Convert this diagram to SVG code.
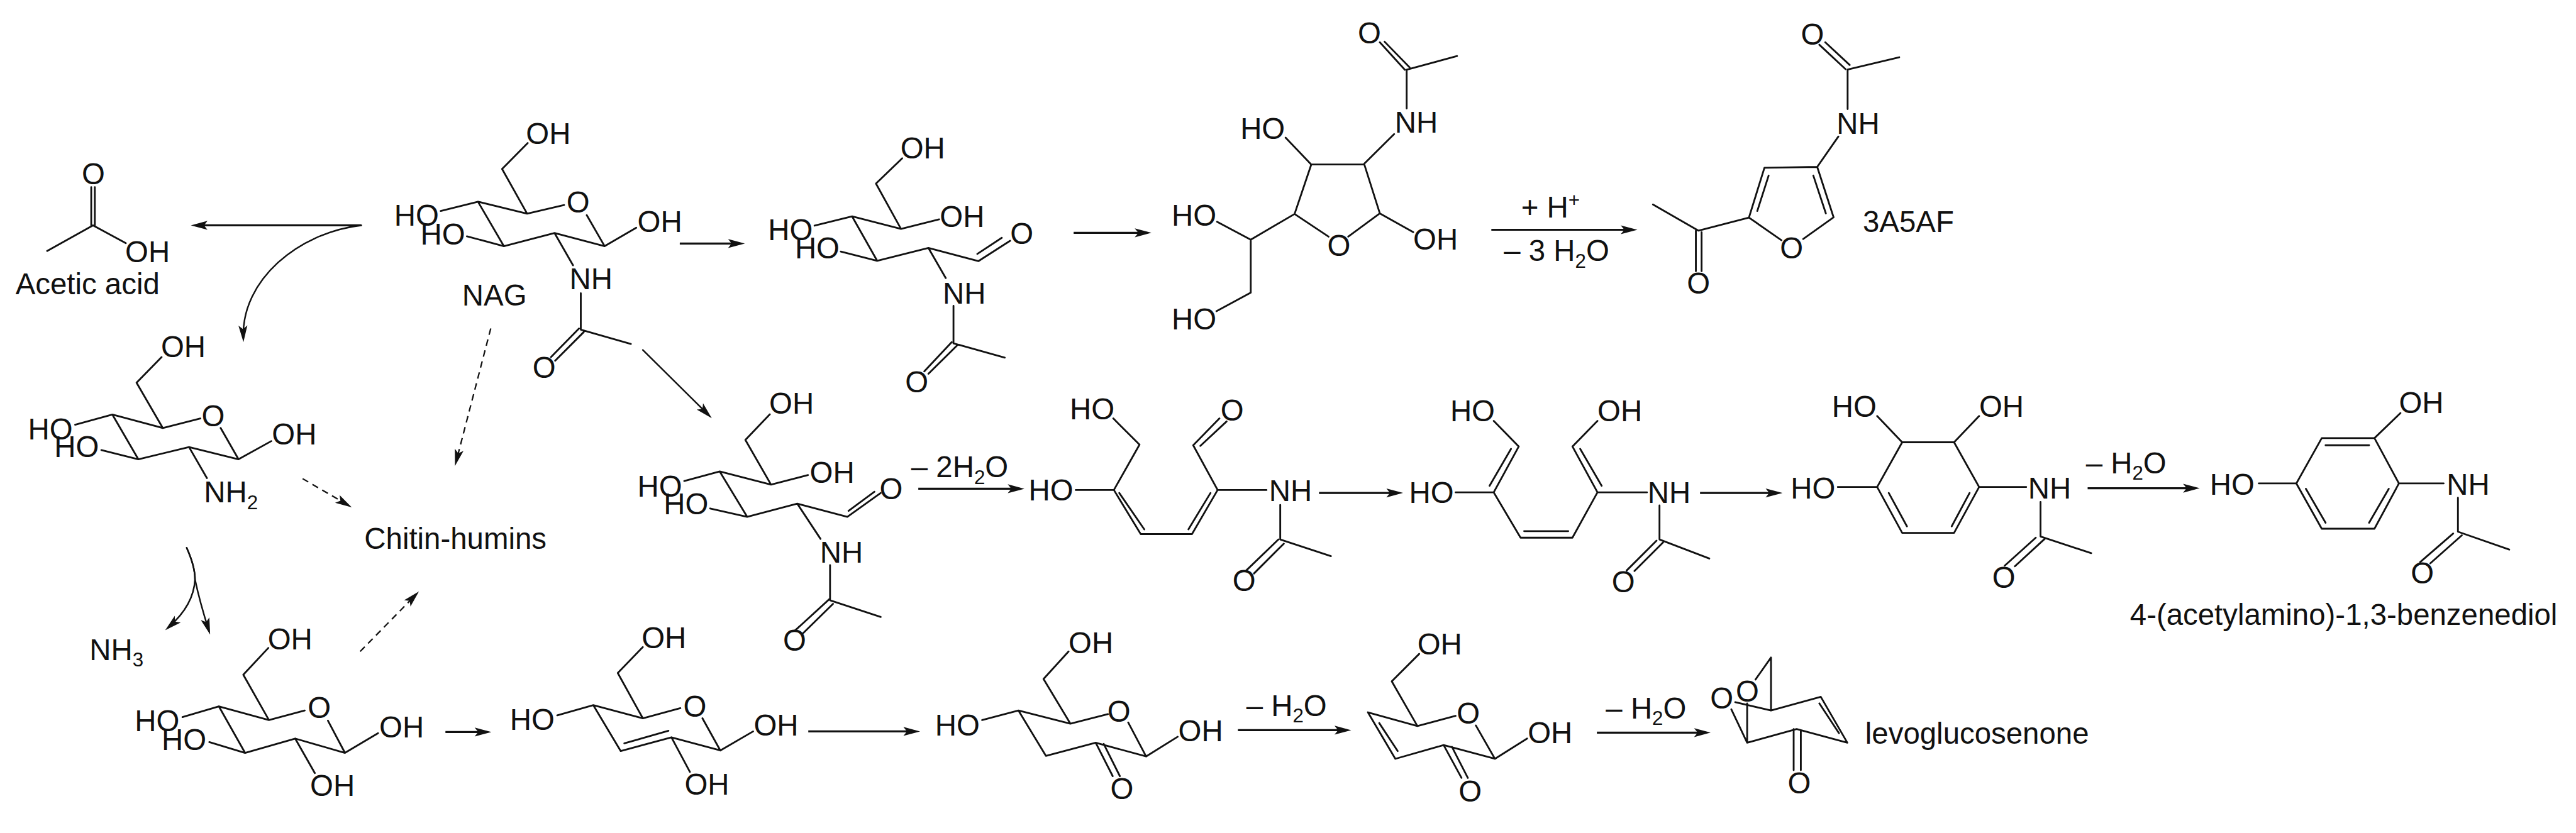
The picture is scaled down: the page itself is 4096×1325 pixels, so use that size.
<svg xmlns="http://www.w3.org/2000/svg" width="4096" height="1325" viewBox="0 0 4096 1325">
<style>
text{font-family:"Liberation Sans",Arial,sans-serif;font-size:50px;fill:#111}
.s{font-size:33px}
.b,.c,.d{fill:none;stroke:#111;stroke-linecap:round;stroke-linejoin:round}
.b{stroke-width:3}
.c{stroke-width:3.4;stroke-linecap:butt;marker-end:url(#h)}
.t{stroke-width:2.6;marker-end:url(#h)}
.d{stroke-width:2.4;stroke-dasharray:11 8;stroke-linecap:butt;marker-end:url(#h)}
</style>
<defs>
<marker id="h" markerUnits="userSpaceOnUse" viewBox="-24 -8 32 16" refX="0" refY="0" markerWidth="32" markerHeight="16" orient="auto"><path d="M8 0L-20-7.5-14 0-20 7.5Z" fill="#111"/></marker>
</defs>
<rect width="4096" height="1325" fill="#fff"/>
<g transform="scale(.94815)">
<g id="acetic-acid">
<path class="b" d="M153 314V378M159 314V378M79 421L156 378 211 408"/>
<text x="137" y="309">O</text><text x="210" y="440">OH</text><text x="26" y="494">Acetic acid</text>
</g>
<g id="nag">
<path class="b" d="M885 240L842 283.500 884 358.500 946 344M884 358.500L801.600 338.400 739 354M801.600 338.400L845 413 783 396.400M845 413L930 391 1014 413 984 361M1014 413L1067 382M930 391L961 445M974 492V553L1058 577M971 551L924 599M979 557L931 605"/>
<text x="882" y="241">OH</text><text x="950" y="356">O</text><text x="661" y="379">HO</text><text x="705" y="410">HO</text><text x="1069" y="389">OH</text><text x="955" y="485">NH</text><text x="893" y="634">O</text><text x="775" y="513">NAG</text>
</g>
<g id="glucosamine">
<path class="b" d="M271 599L229 642 273 718 336 702M273 718L188.500 695.500 126 712.500M188.500 695.500L232 770.500 170 755M232 770.500L317 750 400 770.500 370 718M400 770.500L455 740M317 750L347 802"/>
<text x="270" y="599">OH</text><text x="338" y="715">O</text><text x="47" y="737">HO</text><text x="91" y="767">HO</text><text x="456" y="746">OH</text><text x="342" y="843">NH<tspan class="s" dy="11">2</tspan></text>
</g>
<g id="chitin-humins"><text x="611" y="921">Chitin-humins</text></g>
<g id="ammonia"><text x="150" y="1107">NH<tspan class="s" dy="11">3</tspan></text></g>
<g id="glucose">
<path class="b" d="M450 1087L408 1132 451 1208 511 1192M451 1208L367 1185 306 1203M367 1185L411 1263 351 1245M411 1263L495 1239 578.500 1263 550 1209M578.500 1263L634 1230M495 1239L528 1297"/>
<text x="449" y="1089">OH</text><text x="516" y="1204">O</text><text x="226" y="1227">HO</text><text x="271" y="1258">HO</text><text x="636" y="1237">OH</text><text x="520" y="1335">OH</text>
</g>
<g id="enol">
<path class="b" d="M1078 1085.500L1036 1129 1078 1205 1141 1188M1078 1205L995 1183 934.500 1200M995 1183L1041 1260 1126 1237 1208 1259 1178 1205M1208 1259L1263 1227M1126 1237L1157 1295M1047 1247L1121 1226"/>
<text x="1076" y="1087">OH</text><text x="1146" y="1202">O</text><text x="855" y="1225">HO</text><text x="1264" y="1234">OH</text><text x="1148" y="1333">OH</text>
</g>
<g id="ketone">
<path class="b" d="M1792 1093L1750 1139 1795 1214 1858 1198M1795 1214L1708 1192 1647 1208M1708 1192L1754 1268 1837.500 1246 1922 1269 1892 1212M1922 1269L1975 1236M1837.500 1246L1866 1302M1851 1248L1878 1302"/>
<text x="1792" y="1096">OH</text><text x="1857" y="1211">O</text><text x="1568" y="1234">HO</text><text x="1976" y="1243">OH</text><text x="1862" y="1341">O</text>
</g>
<g id="enone">
<path class="b" d="M2380 1097L2334 1143 2377 1218 2441 1201M2377 1218L2294 1195 2340 1273 2421 1250 2507 1273 2475 1217M2507 1273L2561 1239M2313 1213L2344 1260M2421 1250L2451 1305M2435 1253L2461.600 1305"/>
<text x="2377" y="1098">OH</text><text x="2443" y="1214">O</text><text x="2562" y="1247">OH</text><text x="2446" y="1345">O</text>
</g>
<g id="levoglucosenone">
<path class="b" d="M2944 1140L2970 1103V1192L2910 1178M2970 1192L3053.500 1169 3098 1246 3013 1223 2930 1246 2903.500 1190M2930 1180V1246M3051 1180L3084 1230M3008 1223V1292M3020 1225V1292"/>
<text x="2911" y="1177">O</text><text x="2868" y="1189">O</text><text x="2998" y="1331">O</text><text x="3128" y="1248">levoglucosenone</text>
</g>
<g id="open-chain-top">
<path class="b" d="M1513 265.600L1469 308 1511 384 1575 368M1511 384L1429 363 1366 378.600M1429 363L1471 437.500 1410 422M1471 437.500L1557 416 1641 438 1694 404M1639 426L1680 399M1557 416L1586 466.500M1599 513V576L1685 600M1596 574L1550 623M1605 579.500L1557 627"/>
<text x="1510" y="266">OH</text><text x="1576" y="381">OH</text><text x="1288" y="403">HO</text><text x="1333" y="434">HO</text><text x="1694" y="409">O</text><text x="1581" y="509">NH</text><text x="1518" y="658">O</text>
</g>
<g id="furanose">
<path class="b" d="M2156 231L2199 276H2288L2314 358 2261 397M2228 397L2171 359 2199 276M2171 359L2097.500 402 2041 372M2097.500 402V491L2040 522M2338 225L2288 274.500M2359 182V117L2443.500 94M2356 117L2314 71M2364 113L2322 70M2314 358L2370 389.500"/>
<text x="2080" y="233">HO</text><text x="1965" y="379">HO</text><text x="1965" y="553">HO</text><text x="2226" y="429">O</text><text x="2339" y="223">NH</text><text x="2277" y="73">O</text><text x="2370" y="419">OH</text>
</g>
<g id="a3a5af">
<path class="b" d="M3098.500 183V116.600L3185 96M3095 116L3051 75M3102 109L3061 71M3083 229L3047.500 280 2959 281.500 2933 365 2987.500 403M3047.500 280L3075 364.600 3024 401M2966 294.600L2947 354M3041 294.600L3062 358M2933 365L2848.500 387 2772 343M2844 387V455M2853.600 389.500V455"/>
<text x="3020" y="75">O</text><text x="3080" y="225">NH</text><text x="2985" y="434">O</text><text x="2829" y="493">O</text><text x="3124" y="389">3A5AF</text>
</g>
<g id="open-chain-mid">
<path class="b" d="M1291 695L1250 738 1293 813 1355 797M1293 813L1207 791 1147.500 807M1207 791L1253 867 1191 853M1253 867L1337 845 1421 867 1477 827M1423 857L1466.500 825M1337 845L1376 904M1392 948V1007L1477 1035M1391 1005L1333 1058M1397 1013L1347 1062"/>
<text x="1290" y="694">OH</text><text x="1358" y="810">OH</text><text x="1069" y="833">HO</text><text x="1113" y="863">HO</text><text x="1475" y="837">O</text><text x="1375" y="944">NH</text><text x="1313" y="1092">O</text>
</g>
<g id="diene-1">
<path class="b" d="M1867 702L1911 746 1868 822 1804 822M1868 822L1913 896H1999L2042 822 2001 747 2045 702M2013 748L2057 707M1877 827L1919 888M1993 888L2030 827M2042 822H2124M2147 847V905L2232 933M2144 905L2090 957M2153 912L2103 962"/>
<text x="1794" y="703">HO</text><text x="1725" y="840">HO</text><text x="2047" y="706">O</text><text x="2128" y="841">NH</text><text x="2067" y="991">O</text>
</g>
<g id="diene-2">
<path class="b" d="M2505 706L2547 749 2505 826 2441 826M2505 826L2550 902H2637L2679 826 2637 749 2679 706M2534 753L2498 815M2650 753L2686 815M2556 891H2630M2679 826H2762M2783 848V905L2866.500 937M2778 907L2728 957M2789 910L2741 958"/>
<text x="2432" y="707">HO</text><text x="2679" y="707">OH</text><text x="2363" y="844">HO</text><text x="2763" y="844">NH</text><text x="2703" y="993">O</text>
</g>
<g id="cyclohexadiene">
<path class="b" d="M3148 698L3190 742H3277L3319 698M3190 742L3148 817 3082 817M3148 817L3190 894H3277L3319 817 3277 742M3167.500 827L3198 883M3273 883L3303 827M3319 817H3398M3422 842V900L3507 928M3414 902L3362 949M3429 904L3379 950"/>
<text x="3072" y="699">HO</text><text x="3319" y="699">OH</text><text x="3003" y="836">HO</text><text x="3401" y="836">NH</text><text x="3341" y="986">O</text>
</g>
<g id="benzenediol">
<path class="b" d="M4025.600 693L3982 735H3893.600L3851 811 3788 811M3851 811L3893.600 887H3982L4023 811 3982 735M3900 747H3973M3867 820L3900 877M3973 877L4006 820M4023 811H4098M4122 835V892L4208 922M4114 895L4058.600 943M4128.500 898L4075.700 945"/>
<text x="4023" y="693">OH</text><text x="3706" y="830">HO</text><text x="4103" y="830">NH</text><text x="4043" y="979">O</text>
<text x="3572" y="1048">4-(acetylamino)-1,3-benzenediol</text>
</g>
<g id="reaction-labels">
<text x="2551" y="365">+ H<tspan class="s" dy="-18">+</tspan></text>
<text x="2522" y="438">– 3 H<tspan class="s" dy="11">2</tspan><tspan dy="-11">O</tspan></text>
<text x="1528" y="801">– 2H<tspan class="s" dy="11">2</tspan><tspan dy="-11">O</tspan></text>
<text x="3498" y="794">– H<tspan class="s" dy="11">2</tspan><tspan dy="-11">O</tspan></text>
<text x="2090" y="1201">– H<tspan class="s" dy="11">2</tspan><tspan dy="-11">O</tspan></text>
<text x="2693" y="1205">– H<tspan class="s" dy="11">2</tspan><tspan dy="-11">O</tspan></text>
</g>
<g id="connectors">
<path class="c" d="M606 378H328"/>
<path class="b t" d="M606 378C500 390 405 470 408 566"/>
<path class="c" d="M1140 408.500H1241"/>
<path class="c" d="M1800.500 390.600H1923"/>
<path class="c" d="M2501 385.500H2738"/>
<path class="b t" d="M1078 587L1188 696"/>
<path class="c" d="M1540 820H1710"/>
<path class="c" d="M2212 827H2345"/>
<path class="c" d="M2851 827H2981"/>
<path class="c" d="M3501 819H3681"/>
<path class="d" d="M823 551L765 774"/>
<path class="d" d="M507.500 803L583 847"/>
<path class="d" d="M604 1093L697 998"/>
<path class="b t" d="M313 919Q327 950 327 972Q335 1010 350 1057"/>
<path class="b t" d="M313 919Q327 950 327 972Q325 1015 283 1052"/>
<path class="c" d="M747 1228H816"/>
<path class="c" d="M1355.500 1227H1535"/>
<path class="c" d="M2076 1225H2258"/>
<path class="c" d="M2678 1229H2861"/>
</g>
</g>
</svg>
